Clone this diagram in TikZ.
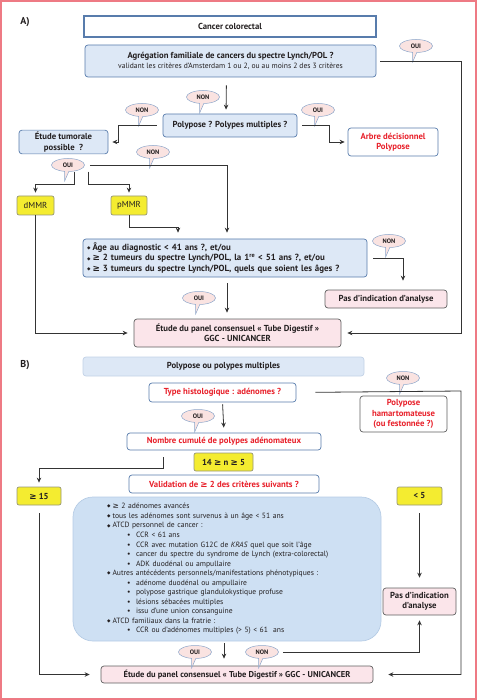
\documentclass[tikz,border=0pt]{standalone}
\usepackage{fontspec}
\setmainfont{PT Sans}
\newfontfamily\symfont{DejaVu Sans}
\usetikzlibrary{arrows.meta, shapes.callouts, calc}
\definecolor{framecol}{RGB}{238, 122, 132}
\definecolor{bluedraw}{RGB}{88, 124, 172}
\definecolor{bluefill}{RGB}{221, 232, 246}
\definecolor{bigfill}{RGB}{206, 224, 243}
\definecolor{yellowdraw}{RGB}{150, 150, 120}
\definecolor{yellowfill}{RGB}{244, 236, 48}
\definecolor{pinkdraw}{RGB}{95, 95, 95}
\definecolor{pinkfill}{RGB}{251, 229, 234}
\definecolor{redtext}{RGB}{232, 32, 42}
\definecolor{bubbledraw}{RGB}{140, 166, 202}
\definecolor{bubblefill}{RGB}{250, 227, 225}
\definecolor{linecol}{RGB}{52, 52, 52}
\definecolor{inkcol}{RGB}{35, 31, 32}
% Fonts and small glyphs.
\newcommand{\boxfont}{\fontsize{8.7}{10.4}\selectfont\bfseries}
\newcommand{\smallfont}{\fontsize{7.6}{9}\selectfont\mdseries}
\newcommand{\listfont}{\fontsize{7.6}{9.55}\selectfont\mdseries}
\newcommand{\gee}{{\symfont ≥}}
\newcommand{\dia}{{\symfont\fontsize{4.5}{4.5}\selectfont\raisebox{0.35ex}{◆}}}
\newcommand{\itA}{\makebox[5.5pt][l]{\dia}}
\newcommand{\itB}{\hspace*{20pt}\makebox[9pt][l]{•}}
\tikzset{
  % Generic box (#1 = border, #2 = fill).
  box/.style 2 args={
    rectangle, draw=#1, fill=#2,
    line width=0.7pt, inner sep=2pt,
    align=center, font=\boxfont, text=inkcol,
  },
  box-blue/.style  ={box={bluedraw}{bluefill}, rounded corners=3pt},
  box-white/.style ={box={bluedraw}{white}, rounded corners=3pt, text=redtext},
  box-yellow/.style={box={yellowdraw}{yellowfill}, rounded corners=2pt},
  box-pink/.style  ={box={pinkdraw}{pinkfill}, rounded corners=3pt},
  box-dark/.style  ={box={pinkdraw}{white}, rounded corners=3pt, text=redtext},
  % Speech bubbles for the answers.
  bubble/.style={
    ellipse callout, callout relative pointer={(-2pt,-9.5pt)},
    draw=bubbledraw, fill=bubblefill, line width=0.5pt,
    inner sep=0pt, minimum width=33pt, minimum height=13pt,
    font=\fontsize{6.4}{7}\selectfont\bfseries, text=inkcol,
  },
  % Arrows.
  flow/.style={
    -{Stealth[length=5pt, width=4.5pt]},
    line width=0.8pt, draw=linecol,
  },
  panel/.style={font=\fontsize{10}{12}\selectfont\bfseries, text=inkcol},
}
\begin{document}
\begin{tikzpicture}[x=1pt, y=-1pt]
  \useasboundingbox (0,0) rectangle (477,700);
  \draw[framecol, line width=1.5pt] (1,1) rectangle (476,699);

  % ---------------- Part A ----------------
  \node[panel] (labA) at (25,22) {A)};
  \node[box={bluedraw}{white}, line width=1.1pt, minimum width=292, minimum height=21]
    (cancer) at (230,26.5) {Cancer colorectal};
  \node[box-blue, minimum width=291, minimum height=32] (agreg) at (230.5,61) {%
    Agrégation familiale de cancers du spectre Lynch/POL ?\\[0pt]
    {\smallfont validant les critères d’Amsterdam 1 ou 2, ou au moins 2 des 3 critères}};
  \node[box-blue, minimum width=134, minimum height=23] (poly) at (230,125.5)
    {Polypose ? Polypes multiples ?};
  \node[box-blue, minimum width=89, minimum height=22] (etude) at (63.5,142)
    {Étude tumorale\\possible\ \ ?};
  \node[box-white, minimum width=90, minimum height=28] (arbre) at (393,142)
    {Arbre décisionnel\\Polypose};
  \node[box-yellow, minimum width=37, minimum height=19] (dmmr) at (35.5,205.5) {\mdseries dMMR};
  \node[box-yellow, minimum width=36, minimum height=19] (pmmr) at (129,205.5) {\mdseries pMMR};
  \node[box-blue, minimum width=284, minimum height=38, text width=276, align=left,
        font=\fontsize{8.9}{10.3}\selectfont\bfseries] (crit) at (225,258) {%
    \itA Âge au diagnostic < 41 ans ?, et/ou\\
    \itA \gee\ 2 tumeurs du spectre Lynch/POL, la 1\textsuperscript{re} < 51 ans ?, et/ou\\
    \itA \gee\ 3 tumeurs du spectre Lynch/POL, quels que soient les âges ?};
  \node[box-pink, minimum width=122, minimum height=18] (pasA) at (386,299)
    {Pas d’indication d’analyse};
  \node[box-pink, minimum width=207, minimum height=28] (finA) at (237.5,333)
    {Étude du panel consensuel « Tube Digestif »\\GGC - UNICANCER};

  % Answer bubbles A.
  \node[bubble] (bOuiA1) at (416,46) {OUI};
  \node[bubble] (bNonA1) at (203,97) {NON};
  \node[bubble] (bNonA2) at (142,110) {NON};
  \node[bubble] (bOuiA2) at (318,110) {OUI};
  \node[bubble] (bNonA3) at (153,152) {NON};
  \node[bubble] (bOuiA3) at (68,165) {OUI};
  \node[bubble] (bNonA4) at (389,241) {NON};
  \node[bubble] (bOuiA4) at (199,298) {OUI};

  % Connectors A.
  \coordinate (railA) at (461,61);
  \draw[flow, shorten <=4pt, shorten >=6pt] (agreg.east) -- (railA) |- (finA.east);
  \draw[flow, shorten <=8pt, shorten >=4pt] ([xshift=-4pt]agreg.south) -- ([xshift=-4pt]poly.north);
  \draw[flow, shorten <=6pt, shorten >=4pt] (poly.west) -- ++(-44,0) |- (etude.east);
  \draw[flow, shorten <=5pt, shorten >=3pt] (poly.east) -- ++(32,0) |- (arbre.west);
  \draw[flow, shorten >=3pt] ([xshift=6pt]bOuiA3.south) -- ++(0,13) -| (dmmr.north);
  \draw[flow, shorten >=3pt] ([xshift=20pt]bOuiA3.south) -- ++(0,13) -| (pmmr.north);
  \draw[flow, shorten <=5pt, shorten >=6pt] (bOuiA3.east) -| ([xshift=2pt]crit.north);
  \draw[flow, shorten >=6pt] (dmmr.south) |- (finA.west);
  \draw[flow, shorten >=6pt] (pmmr.south) -- ++(0,12) -| ([xshift=-47pt]crit.north);
  \draw[flow, shorten <=6pt, shorten >=9pt] (crit.east) -| ([xshift=17pt]pasA.north);
  \draw[flow, shorten <=6pt, shorten >=6pt] ([xshift=2pt]crit.south) -- ([xshift=2pt]crit.south |- finA.north);

  % ---------------- Part B ----------------
  \node[panel] (labB) at (25,365) {B)};
  \node[box={bluefill!80!bluedraw}{bluefill}, rounded corners=3pt, minimum width=281, minimum height=19]
    (polyB) at (223.5,366.5) {Polypose ou polypes multiples};
  \node[box-white, minimum width=147, minimum height=19] (type) at (222.5,392.5)
    {Type histologique : adénomes ?};
  \node[box-dark, minimum width=87, minimum height=36] (hamar) at (403.5,414)
    {Polypose\\hamartomateuse\\(ou festonnée ?)};
  \node[box-white, minimum width=194, minimum height=17] (nombre) at (224,441.5)
    {Nombre cumulé de polypes adénomateux};
  \node[box-yellow, minimum width=59, minimum height=18] (n14) at (223.5,462)
    {14 \gee\ n \gee\ 5};
  \node[box-white, minimum width=190, minimum height=18] (valid) at (224,484)
    {Validation de \gee\ 2 des critères suivants ?};
  \node[box-yellow, minimum width=44, minimum height=18] (ge15) at (39,496) {\gee\ 15};
  \node[box-yellow, minimum width=45, minimum height=18] (lt5) at (419.5,496) {< 5};
  \node[box={bigfill!80!bluedraw}{bigfill}, rounded corners=20pt,
        minimum width=308, minimum height=144, text width=240, align=left,
        font=\listfont] (big) at (227,569) {%
    \itA \gee\ 2 adénomes avancés\\
    \itA tous les adénomes sont survenus à un âge < 51 ans\\
    \itA ATCD personnel de cancer :\\
    \itB CCR < 61 ans\\
    \itB CCR avec mutation G12C de \textit{KRAS} quel que soit l’âge\\
    \itB cancer du spectre du syndrome de Lynch (extra-colorectal)\\
    \itB ADK duodénal ou ampullaire\\
    \itA Autres antécédents personnels/manifestations phénotypiques :\\
    \itB adénome duodénal ou ampullaire\\
    \itB polypose gastrique glandulokystique profuse\\
    \itB lésions sébacées multiples\\
    \itB issu d’une union consanguine\\
    \itA ATCD familiaux dans la fratrie :\\
    \itB CCR ou d’adénomes multiples (> 5) < 61\ \ ans};
  \node[box-pink, minimum width=73, minimum height=27] (pasB) at (419.5,601.5)
    {Pas d’indication\\d’analyse};
  \node[box-pink, minimum width=272, minimum height=17, font=\fontsize{8.5}{10}\selectfont\bfseries]
    (finB) at (237,674.5)
    {Étude du panel consensuel « Tube Digestif » GGC - UNICANCER};

  % Answer bubbles B.
  \node[bubble] (bNonB1) at (403,378) {NON};
  \node[bubble] (bOuiB1) at (198,416) {OUI};
  \node[bubble] (bOuiB2) at (195,652) {OUI};
  \node[bubble] (bNonB2) at (262,652) {NON};

  % Connectors B.
  \coordinate (railB) at (461,391);
  \draw[flow, shorten <=19pt, shorten >=15pt] (type.east) -- (railB) |- (finB.east);
  \draw[flow, shorten <=2pt, shorten >=5pt] (type.south) -- (nombre.north);
  \draw[flow, shorten <=7pt, shorten >=4pt] ([xshift=-61pt]nombre.south) -- ++(0,18) -| (ge15.north);
  \draw[flow, shorten <=8pt, shorten >=11pt] (ge15.south) |- (finB.west);
  \draw[flow, shorten <=8pt, shorten >=10pt] (lt5.south) -- (pasB.north);
  \draw[flow, shorten <=2pt, shorten >=7pt] ([xshift=-3pt]big.south) -- ([xshift=-3pt]big.south |- finB.north);
  \draw[flow, shorten <=4pt, shorten >=5pt] (bNonB2.east) -| (pasB.south);
\end{tikzpicture}
\end{document}
